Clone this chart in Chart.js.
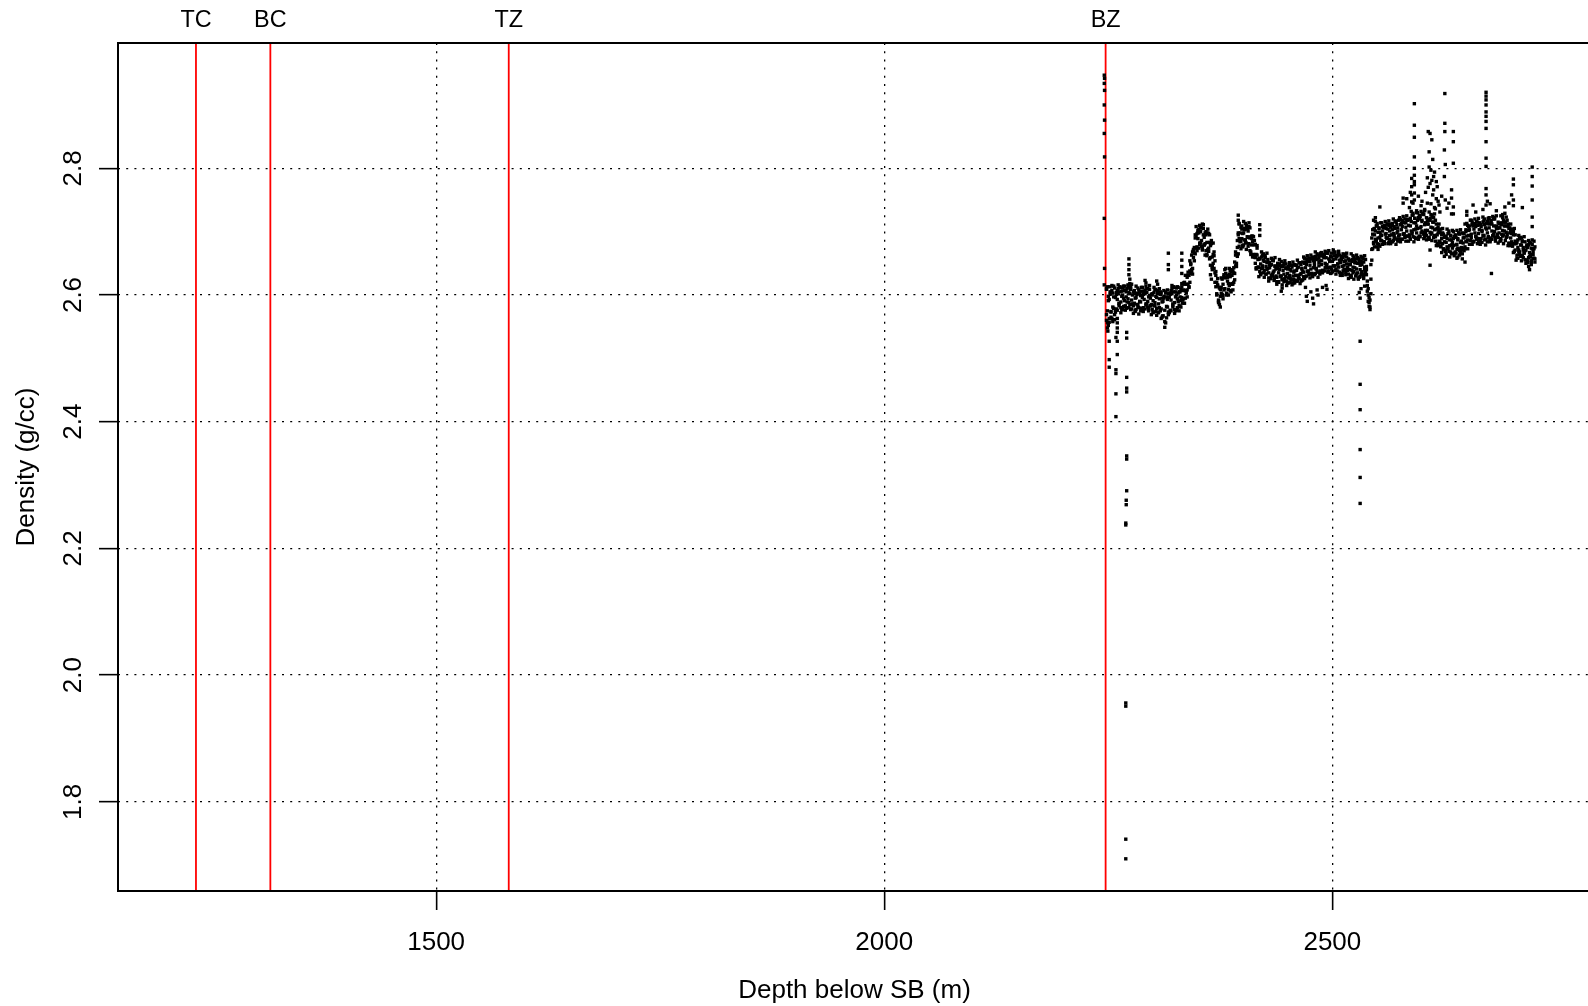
<!DOCTYPE html>
<html>
<head>
<meta charset="utf-8">
<script src="https://cdn.jsdelivr.net/npm/chart.js@4"></script>
<style>
  html, body { margin: 0; padding: 0; background: #fff; overflow: hidden; }
  canvas { display: block; }
</style>
</head>
<body>
<canvas id="densityChart" width="1600" height="1006"></canvas>
<script>
// formation tops, depth below SB (m)
var topNames = ['TC', 'BC', 'TZ', 'BZ'];
var topDepths = [1232, 1315, 1581, 2247];

var xTicks = [1500, 2000, 2500];
var yTicks = [1.8, 2.0, 2.2, 2.4, 2.6, 2.8];

// density log, three readings per metre
var depth = [
  2248, 2249, 2250, 2251, 2252, 2253, 2254, 2255, 2256, 2257,
  2258, 2259, 2260, 2261, 2262, 2263, 2264, 2265, 2266, 2267,
  2268, 2269, 2270, 2271, 2272, 2273, 2274, 2275, 2276, 2277,
  2278, 2279, 2280, 2281, 2282, 2283, 2284, 2285, 2286, 2287,
  2288, 2289, 2290, 2291, 2292, 2293, 2294, 2295, 2296, 2297,
  2298, 2299, 2300, 2301, 2302, 2303, 2304, 2305, 2306, 2307,
  2308, 2309, 2310, 2311, 2312, 2313, 2314, 2315, 2316, 2317,
  2318, 2319, 2320, 2321, 2322, 2323, 2324, 2325, 2326, 2327,
  2328, 2329, 2330, 2331, 2332, 2333, 2334, 2335, 2336, 2337,
  2338, 2339, 2340, 2341, 2342, 2343, 2344, 2345, 2346, 2347,
  2348, 2349, 2350, 2351, 2352, 2353, 2354, 2355, 2356, 2357,
  2358, 2359, 2360, 2361, 2362, 2363, 2364, 2365, 2366, 2367,
  2368, 2369, 2370, 2371, 2372, 2373, 2374, 2375, 2376, 2377,
  2378, 2379, 2380, 2381, 2382, 2383, 2384, 2385, 2386, 2387,
  2388, 2389, 2390, 2391, 2392, 2393, 2394, 2395, 2396, 2397,
  2398, 2399, 2400, 2401, 2402, 2403, 2404, 2405, 2406, 2407,
  2408, 2409, 2410, 2411, 2412, 2413, 2414, 2415, 2416, 2417,
  2418, 2419, 2420, 2421, 2422, 2423, 2424, 2425, 2426, 2427,
  2428, 2429, 2430, 2431, 2432, 2433, 2434, 2435, 2436, 2437,
  2438, 2439, 2440, 2441, 2442, 2443, 2444, 2445, 2446, 2447,
  2448, 2449, 2450, 2451, 2452, 2453, 2454, 2455, 2456, 2457,
  2458, 2459, 2460, 2461, 2462, 2463, 2464, 2465, 2466, 2467,
  2468, 2469, 2470, 2471, 2472, 2473, 2474, 2475, 2476, 2477,
  2478, 2479, 2480, 2481, 2482, 2483, 2484, 2485, 2486, 2487,
  2488, 2489, 2490, 2491, 2492, 2493, 2494, 2495, 2496, 2497,
  2498, 2499, 2500, 2501, 2502, 2503, 2504, 2505, 2506, 2507,
  2508, 2509, 2510, 2511, 2512, 2513, 2514, 2515, 2516, 2517,
  2518, 2519, 2520, 2521, 2522, 2523, 2524, 2525, 2526, 2527,
  2528, 2529, 2530, 2531, 2532, 2533, 2534, 2535, 2536, 2537,
  2538, 2539, 2540, 2541, 2542, 2543, 2544,
  2545, 2546, 2547, 2548, 2549, 2550, 2551, 2552, 2553, 2554,
  2555, 2556, 2557, 2558, 2559, 2560, 2561, 2562, 2563, 2564,
  2565, 2566, 2567, 2568, 2569, 2570, 2571, 2572, 2573, 2574,
  2575, 2576, 2577, 2578, 2579, 2580, 2581, 2582, 2583, 2584,
  2585, 2586, 2587, 2588, 2589, 2590, 2591, 2592, 2593, 2594,
  2595, 2596, 2597, 2598, 2599, 2600, 2601, 2602, 2603, 2604,
  2605, 2606, 2607, 2608, 2609, 2610, 2611, 2612, 2613, 2614,
  2615, 2616, 2617, 2618, 2619, 2620, 2621, 2622, 2623, 2624,
  2625, 2626, 2627, 2628, 2629, 2630, 2631, 2632, 2633, 2634,
  2635, 2636, 2637, 2638, 2639, 2640, 2641, 2642, 2643, 2644,
  2645, 2646, 2647, 2648, 2649, 2650, 2651, 2652, 2653, 2654,
  2655, 2656, 2657, 2658, 2659, 2660, 2661, 2662, 2663, 2664,
  2665, 2666, 2667, 2668, 2669, 2670, 2671, 2672, 2673, 2674,
  2675, 2676, 2677, 2678, 2679, 2680, 2681, 2682, 2683, 2684,
  2685, 2686, 2687, 2688, 2689, 2690, 2691, 2692, 2693, 2694,
  2695, 2696, 2697, 2698, 2699, 2700, 2701, 2702, 2703, 2704,
  2705, 2706, 2707, 2708, 2709, 2710, 2711, 2712, 2713, 2714,
  2715, 2716, 2717, 2718, 2719, 2720, 2721, 2722, 2723, 2724, 2725, 2726
];
var densA = [
  2.609, 2.575, 2.591, 2.557, 2.601, 2.565, 2.615, 2.581, 2.597, 2.561,
  2.596, 2.578, 2.607, 2.602, 2.583, 2.612, 2.589, 2.577, 2.600, 2.595,
  2.607, 2.583, 2.597, 2.589, 2.614, 2.580, 2.602, 2.609, 2.592, 2.586,
  2.583, 2.607, 2.576, 2.596, 2.603, 2.585, 2.580, 2.602, 2.589, 2.606,
  2.578, 2.601, 2.593, 2.608, 2.586, 2.604, 2.581, 2.597, 2.609, 2.583,
  2.585, 2.602, 2.573, 2.604, 2.588, 2.598, 2.579, 2.607, 2.572, 2.594,
  2.601, 2.578, 2.589, 2.567, 2.595, 2.558, 2.605, 2.582, 2.593, 2.569,
  2.596, 2.576, 2.607, 2.602, 2.581, 2.613, 2.588, 2.575, 2.600, 2.594,
  2.603, 2.584, 2.597, 2.591, 2.613, 2.587, 2.608, 2.617, 2.607, 2.606,
  2.608, 2.636, 2.613, 2.638, 2.650, 2.640, 2.642, 2.670, 2.666, 2.690,
  2.674, 2.697, 2.689, 2.704, 2.682, 2.700, 2.677, 2.712, 2.705, 2.679,
  2.681, 2.700, 2.664, 2.698, 2.674, 2.683, 2.659, 2.686, 2.644, 2.664,
  2.662, 2.635, 2.631, 2.602, 2.614, 2.588, 2.611, 2.598, 2.612, 2.600,
  2.617, 2.608, 2.640, 2.628, 2.600, 2.628, 2.618, 2.615, 2.629, 2.617,
  2.631, 2.617, 2.635, 2.634, 2.663, 2.645, 2.675, 2.695, 2.689, 2.687,
  2.685, 2.709, 2.678, 2.698, 2.705, 2.687, 2.682, 2.704, 2.691, 2.708,
  2.670, 2.692, 2.679, 2.693, 2.664, 2.679, 2.650, 2.664, 2.674, 2.643,
  2.644, 2.658, 2.634, 2.660, 2.646, 2.655, 2.639, 2.662, 2.633, 2.651,
  2.652, 2.635, 2.643, 2.626, 2.648, 2.630, 2.655, 2.638, 2.646, 2.628,
  2.628, 2.650, 2.621, 2.640, 2.646, 2.630, 2.625, 2.645, 2.633, 2.649,
  2.642, 2.622, 2.634, 2.627, 2.648, 2.620, 2.638, 2.644, 2.630, 2.625,
  2.638, 2.623, 2.647, 2.643, 2.627, 2.651, 2.632, 2.622, 2.641, 2.637,
  2.629, 2.650, 2.643, 2.657, 2.637, 2.653, 2.632, 2.647, 2.658, 2.634,
  2.660, 2.643, 2.651, 2.634, 2.656, 2.638, 2.663, 2.646, 2.654, 2.636,
  2.654, 2.639, 2.663, 2.659, 2.643, 2.667, 2.648, 2.638, 2.657, 2.653,
  2.661, 2.641, 2.653, 2.646, 2.667, 2.639, 2.657, 2.663, 2.649, 2.644,
  2.655, 2.632, 2.661, 2.645, 2.638, 2.653, 2.664, 2.636, 2.649, 2.641,
  2.633, 2.648, 2.654, 2.628, 2.656, 2.644, 2.637, 2.651, 2.657, 2.641,
  2.635, 2.657, 2.628, 2.647, 2.653, 2.637, 2.632, 2.652, 2.640, 2.656,
  2.632, 2.622, 2.610, 2.596, 2.581, 2.602, 2.655,
  2.696, 2.681, 2.705, 2.701, 2.685, 2.709, 2.690, 2.680, 2.699, 2.695,
  2.694, 2.708, 2.684, 2.710, 2.696, 2.705, 2.689, 2.712, 2.683, 2.701,
  2.712, 2.695, 2.703, 2.686, 2.708, 2.690, 2.715, 2.698, 2.706, 2.688,
  2.695, 2.719, 2.688, 2.708, 2.715, 2.697, 2.692, 2.714, 2.701, 2.718,
  2.719, 2.695, 2.709, 2.701, 2.726, 2.692, 2.714, 2.721, 2.704, 2.698,
  2.718, 2.691, 2.726, 2.706, 2.698, 2.716, 2.729, 2.696, 2.711, 2.702,
  2.694, 2.712, 2.719, 2.688, 2.721, 2.707, 2.698, 2.715, 2.722, 2.703,
  2.685, 2.704, 2.695, 2.707, 2.685, 2.699, 2.676, 2.689, 2.698, 2.673,
  2.684, 2.669, 2.693, 2.689, 2.673, 2.697, 2.678, 2.668, 2.687, 2.683,
  2.678, 2.692, 2.668, 2.694, 2.680, 2.689, 2.673, 2.696, 2.667, 2.685,
  2.674, 2.690, 2.697, 2.673, 2.703, 2.693, 2.687, 2.702, 2.709, 2.694,
  2.691, 2.715, 2.684, 2.704, 2.711, 2.693, 2.688, 2.710, 2.697, 2.714,
  2.711, 2.689, 2.702, 2.694, 2.717, 2.687, 2.706, 2.713, 2.698, 2.692,
  2.712, 2.686, 2.718, 2.701, 2.693, 2.709, 2.722, 2.691, 2.705, 2.696,
  2.715, 2.698, 2.706, 2.689, 2.711, 2.693, 2.718, 2.701, 2.709, 2.691,
  2.696, 2.708, 2.682, 2.706, 2.690, 2.697, 2.679, 2.700, 2.669, 2.685,
  2.683, 2.663, 2.675, 2.668, 2.689, 2.661, 2.679, 2.685, 2.671, 2.666,
  2.670, 2.655, 2.679, 2.675, 2.659, 2.683, 2.664, 2.654, 2.673, 2.669, 2.658, 2.676
];
var densB = [
  2.569, 2.613, 2.555, 2.593, 2.605, 2.573, 2.563, 2.603, 2.579, 2.611,
  2.576, 2.601, 2.593, 2.610, 2.586, 2.605, 2.580, 2.598, 2.611, 2.582,
  2.591, 2.608, 2.579, 2.610, 2.594, 2.604, 2.585, 2.613, 2.578, 2.600,
  2.605, 2.587, 2.595, 2.577, 2.601, 2.581, 2.608, 2.590, 2.599, 2.579,
  2.596, 2.580, 2.606, 2.602, 2.584, 2.610, 2.590, 2.579, 2.599, 2.595,
  2.601, 2.577, 2.591, 2.583, 2.608, 2.574, 2.596, 2.603, 2.586, 2.580,
  2.575, 2.603, 2.565, 2.590, 2.598, 2.549, 2.556, 2.597, 2.581, 2.602,
  2.573, 2.601, 2.592, 2.610, 2.584, 2.605, 2.577, 2.597, 2.611, 2.580,
  2.590, 2.605, 2.582, 2.609, 2.596, 2.607, 2.594, 2.620, 2.595, 2.617,
  2.628, 2.617, 2.631, 2.620, 2.648, 2.636, 2.668, 2.659, 2.675, 2.665,
  2.692, 2.676, 2.702, 2.698, 2.680, 2.706, 2.686, 2.675, 2.695, 2.691,
  2.698, 2.670, 2.683, 2.672, 2.697, 2.657, 2.678, 2.682, 2.660, 2.650,
  2.642, 2.654, 2.613, 2.620, 2.616, 2.592, 2.585, 2.609, 2.603, 2.625,
  2.599, 2.629, 2.627, 2.634, 2.602, 2.622, 2.609, 2.633, 2.639, 2.605,
  2.618, 2.638, 2.620, 2.652, 2.646, 2.665, 2.661, 2.698, 2.677, 2.698,
  2.707, 2.689, 2.697, 2.679, 2.703, 2.683, 2.710, 2.692, 2.701, 2.681,
  2.690, 2.668, 2.693, 2.684, 2.661, 2.686, 2.659, 2.643, 2.663, 2.656,
  2.657, 2.637, 2.649, 2.642, 2.663, 2.635, 2.653, 2.659, 2.645, 2.640,
  2.642, 2.627, 2.651, 2.647, 2.631, 2.655, 2.636, 2.626, 2.645, 2.641,
  2.621, 2.642, 2.635, 2.649, 2.629, 2.645, 2.624, 2.639, 2.650, 2.626,
  2.629, 2.643, 2.619, 2.645, 2.631, 2.640, 2.624, 2.647, 2.618, 2.636,
  2.648, 2.631, 2.639, 2.622, 2.644, 2.626, 2.651, 2.634, 2.642, 2.624,
  2.636, 2.658, 2.629, 2.648, 2.654, 2.638, 2.633, 2.653, 2.641, 2.657,
  2.633, 2.654, 2.647, 2.661, 2.641, 2.657, 2.636, 2.651, 2.662, 2.638,
  2.648, 2.662, 2.638, 2.664, 2.650, 2.659, 2.643, 2.666, 2.637, 2.655,
  2.644, 2.666, 2.637, 2.656, 2.662, 2.646, 2.641, 2.661, 2.649, 2.665,
  2.636, 2.651, 2.657, 2.631, 2.659, 2.647, 2.640, 2.654, 2.660, 2.644,
  2.657, 2.640, 2.648, 2.631, 2.653, 2.635, 2.660, 2.643, 2.651, 2.633,
  2.650, 2.627, 2.656, 2.640, 2.633, 2.648, 2.659, 2.631, 2.644, 2.636,
  2.640, 2.615, 2.600, 2.588, 2.577, 2.625, 2.672,
  2.703, 2.683, 2.695, 2.688, 2.709, 2.681, 2.699, 2.705, 2.691, 2.686,
  2.686, 2.701, 2.707, 2.681, 2.709, 2.697, 2.690, 2.704, 2.710, 2.694,
  2.707, 2.684, 2.713, 2.697, 2.690, 2.705, 2.716, 2.688, 2.701, 2.693,
  2.688, 2.711, 2.703, 2.718, 2.696, 2.714, 2.691, 2.707, 2.719, 2.693,
  2.710, 2.692, 2.721, 2.716, 2.697, 2.726, 2.703, 2.691, 2.714, 2.709,
  2.705, 2.722, 2.693, 2.724, 2.708, 2.718, 2.699, 2.727, 2.692, 2.714,
  2.722, 2.702, 2.712, 2.691, 2.718, 2.696, 2.726, 2.706, 2.715, 2.694,
  2.692, 2.712, 2.681, 2.698, 2.702, 2.684, 2.677, 2.695, 2.681, 2.696,
  2.691, 2.671, 2.683, 2.676, 2.697, 2.669, 2.687, 2.693, 2.679, 2.674,
  2.689, 2.666, 2.695, 2.679, 2.672, 2.687, 2.698, 2.670, 2.683, 2.675,
  2.698, 2.682, 2.691, 2.676, 2.700, 2.684, 2.710, 2.694, 2.703, 2.686,
  2.696, 2.711, 2.685, 2.713, 2.698, 2.708, 2.690, 2.715, 2.684, 2.703,
  2.685, 2.708, 2.700, 2.715, 2.693, 2.711, 2.688, 2.704, 2.716, 2.690,
  2.706, 2.690, 2.716, 2.712, 2.694, 2.720, 2.700, 2.689, 2.709, 2.705,
  2.691, 2.706, 2.712, 2.686, 2.714, 2.702, 2.695, 2.709, 2.715, 2.699,
  2.692, 2.712, 2.681, 2.698, 2.702, 2.684, 2.677, 2.695, 2.681, 2.695,
  2.681, 2.658, 2.687, 2.671, 2.664, 2.679, 2.690, 2.662, 2.675, 2.667,
  2.656, 2.671, 2.677, 2.651, 2.679, 2.667, 2.660, 2.674, 2.680, 2.664, 2.673, 2.657
];
var densC = [
  2.610, 2.557, 2.598, 2.563, 2.613, 2.574, 2.607, 2.558, 2.614, 2.569,
  2.573, 2.604, 2.576, 2.616, 2.587, 2.613, 2.572, 2.606, 2.577, 2.614,
  2.614, 2.576, 2.605, 2.580, 2.616, 2.588, 2.612, 2.577, 2.617, 2.585,
  2.571, 2.602, 2.574, 2.614, 2.585, 2.611, 2.570, 2.604, 2.575, 2.612,
  2.612, 2.574, 2.603, 2.578, 2.614, 2.586, 2.610, 2.575, 2.615, 2.583,
  2.569, 2.600, 2.572, 2.612, 2.583, 2.609, 2.568, 2.602, 2.573, 2.610,
  2.605, 2.563, 2.595, 2.567, 2.607, 2.576, 2.603, 2.564, 2.608, 2.573,
  2.572, 2.603, 2.575, 2.615, 2.586, 2.612, 2.571, 2.605, 2.576, 2.613,
  2.612, 2.575, 2.605, 2.581, 2.618, 2.592, 2.619, 2.587, 2.631, 2.603,
  2.597, 2.631, 2.612, 2.654, 2.634, 2.663, 2.633, 2.672, 2.654, 2.695,
  2.708, 2.670, 2.699, 2.674, 2.710, 2.682, 2.706, 2.671, 2.711, 2.679,
  2.663, 2.695, 2.662, 2.704, 2.669, 2.695, 2.647, 2.681, 2.645, 2.682,
  2.668, 2.620, 2.637, 2.600, 2.626, 2.590, 2.612, 2.581, 2.627, 2.601,
  2.594, 2.632, 2.610, 2.642, 2.603, 2.631, 2.600, 2.642, 2.607, 2.636,
  2.640, 2.608, 2.643, 2.624, 2.668, 2.650, 2.686, 2.665, 2.713, 2.684,
  2.673, 2.704, 2.676, 2.716, 2.687, 2.713, 2.672, 2.706, 2.677, 2.714,
  2.706, 2.664, 2.689, 2.660, 2.692, 2.660, 2.680, 2.641, 2.678, 2.644,
  2.629, 2.657, 2.632, 2.668, 2.642, 2.665, 2.628, 2.659, 2.633, 2.666,
  2.656, 2.622, 2.648, 2.626, 2.658, 2.633, 2.654, 2.623, 2.659, 2.630,
  2.617, 2.645, 2.620, 2.656, 2.630, 2.653, 2.616, 2.647, 2.621, 2.654,
  2.649, 2.615, 2.641, 2.619, 2.651, 2.626, 2.647, 2.616, 2.652, 2.623,
  2.619, 2.647, 2.622, 2.655, 2.631, 2.651, 2.618, 2.648, 2.623, 2.652,
  2.660, 2.626, 2.652, 2.630, 2.662, 2.637, 2.658, 2.627, 2.663, 2.634,
  2.629, 2.657, 2.632, 2.668, 2.642, 2.665, 2.628, 2.659, 2.633, 2.666,
  2.667, 2.635, 2.660, 2.638, 2.669, 2.645, 2.666, 2.636, 2.670, 2.643,
  2.634, 2.660, 2.637, 2.671, 2.646, 2.668, 2.633, 2.662, 2.638, 2.669,
  2.663, 2.631, 2.656, 2.634, 2.665, 2.641, 2.662, 2.632, 2.666, 2.639,
  2.626, 2.654, 2.629, 2.665, 2.639, 2.662, 2.625, 2.656, 2.630, 2.663,
  2.659, 2.625, 2.651, 2.629, 2.661, 2.636, 2.657, 2.626, 2.662, 2.633,
  2.645, 2.606, 2.590, 2.582, 2.592, 2.648, 2.690,
  2.673, 2.704, 2.676, 2.716, 2.687, 2.713, 2.672, 2.706, 2.677, 2.714,
  2.714, 2.680, 2.706, 2.684, 2.716, 2.691, 2.712, 2.681, 2.717, 2.688,
  2.681, 2.709, 2.684, 2.720, 2.694, 2.717, 2.680, 2.711, 2.685, 2.718,
  2.722, 2.684, 2.713, 2.688, 2.724, 2.696, 2.720, 2.685, 2.725, 2.693,
  2.685, 2.719, 2.688, 2.732, 2.700, 2.729, 2.684, 2.721, 2.689, 2.730,
  2.730, 2.688, 2.720, 2.692, 2.732, 2.701, 2.728, 2.689, 2.733, 2.698,
  2.687, 2.717, 2.690, 2.731, 2.699, 2.727, 2.686, 2.723, 2.691, 2.728,
  2.718, 2.678, 2.705, 2.678, 2.712, 2.682, 2.704, 2.667, 2.705, 2.672,
  2.661, 2.692, 2.664, 2.704, 2.675, 2.701, 2.660, 2.694, 2.665, 2.702,
  2.700, 2.662, 2.691, 2.666, 2.702, 2.674, 2.698, 2.663, 2.703, 2.671,
  2.665, 2.697, 2.670, 2.712, 2.685, 2.713, 2.673, 2.708, 2.680, 2.718,
  2.718, 2.680, 2.709, 2.684, 2.720, 2.692, 2.716, 2.681, 2.721, 2.689,
  2.680, 2.711, 2.683, 2.723, 2.694, 2.720, 2.679, 2.713, 2.684, 2.721,
  2.722, 2.684, 2.713, 2.688, 2.724, 2.696, 2.720, 2.685, 2.725, 2.693,
  2.682, 2.713, 2.685, 2.725, 2.696, 2.722, 2.681, 2.715, 2.686, 2.723,
  2.718, 2.678, 2.705, 2.678, 2.712, 2.682, 2.704, 2.667, 2.705, 2.671,
  2.655, 2.683, 2.658, 2.694, 2.668, 2.691, 2.654, 2.685, 2.659, 2.692,
  2.684, 2.650, 2.676, 2.654, 2.686, 2.661, 2.682, 2.651, 2.687, 2.658, 2.685, 2.652
];

// spikes and scattered readings off the main trend
var spikeDepth = [
  2245.5, 2245.8, 2245.5, 2245.8, 2245.5, 2245.8, 2245.5, 2245.8, 2245.5, 2245.8, 2245.5,
  2248, 2249, 2249.5, 2250, 2251, 2251, 2251, 2258.5, 2260, 2260, 2260, 2260, 2260, 2260,
  2258.5, 2258.5, 2258.5, 2258.5, 2270.5, 2270.5, 2270.5, 2270.5, 2270.5, 2270.5, 2270.5, 2270.5,
  2270, 2270, 2269.5, 2269.5, 2269.5, 2269.5, 2269.5, 2269.5,
  2273, 2273, 2273, 2273, 2274, 2274, 2291, 2292, 2304, 2305,
  2317, 2317, 2317, 2332, 2332, 2332, 2332, 2364, 2365, 2366,
  2395, 2395, 2396, 2419, 2419, 2419, 2443, 2444,
  2470, 2471, 2472, 2476, 2478, 2479, 2483, 2484, 2489, 2493, 2494,
  2530, 2531, 2532, 2536, 2531, 2531, 2531, 2531, 2531, 2531,
  2546, 2548, 2550,
  2591.5, 2591.5, 2591.5, 2591.5, 2591.5, 2591.5, 2591.5, 2591.5, 2591.5, 2591.5,
  2588.5, 2588.5, 2588.5, 2588.5,
  2607, 2609, 2611, 2608, 2612, 2610, 2613, 2608, 2614, 2609, 2613, 2616, 2610, 2615, 2618, 2606, 2617,
  2625.5, 2625.5, 2625.5, 2625, 2626, 2625, 2626,
  2635, 2635, 2635, 2633, 2633, 2635, 2635,
  2671.5, 2671.5, 2671.5, 2671.5, 2671.5, 2671.5, 2671.5, 2671.5, 2671.5, 2671.5, 2671.5, 2671.5, 2671.5, 2671.5,
  2702, 2702, 2702, 2702,
  2723, 2723, 2723, 2723, 2723, 2723,
  2650, 2650, 2692.5, 2692.5, 2553, 2579, 2579,
  2586, 2594, 2599, 2603, 2606, 2614, 2620, 2628, 2633, 2660, 2668, 2683, 2690,
  2583, 2587, 2590, 2596, 2600, 2604, 2607, 2611, 2612, 2616, 2619, 2622, 2630, 2657, 2673, 2676, 2697, 2700, 2712,
  2609, 2609, 2648, 2639, 2677.5, 2640, 2645, 2719, 2720, 2722
];
var spikeDens = [
  2.947, 2.942, 2.934, 2.923, 2.900, 2.876, 2.855, 2.818, 2.721, 2.642, 2.616,
  2.560, 2.548, 2.543, 2.552, 2.527, 2.498, 2.486, 2.533, 2.563, 2.556, 2.548, 2.541, 2.527, 2.506,
  2.482, 2.476, 2.444, 2.408, 2.541, 2.532, 2.470, 2.453, 2.447, 2.346, 2.341, 2.291,
  2.276, 2.269, 2.240, 2.237, 1.956, 1.951, 1.741, 1.710,
  2.657, 2.648, 2.640, 2.632, 2.625, 2.618, 2.623, 2.619, 2.622, 2.617,
  2.666, 2.648, 2.640, 2.666, 2.655, 2.645, 2.634, 2.632, 2.625, 2.640,
  2.726, 2.718, 2.712, 2.711, 2.703, 2.694, 2.606, 2.611,
  2.612, 2.598, 2.590, 2.605, 2.595, 2.586, 2.608, 2.600, 2.612, 2.615, 2.609,
  2.604, 2.595, 2.610, 2.614, 2.527, 2.459, 2.419, 2.356, 2.312, 2.271,
  2.718, 2.722, 2.676,
  2.902, 2.868, 2.849, 2.818, 2.800, 2.789, 2.779, 2.774, 2.761, 2.750,
  2.784, 2.771, 2.758, 2.747,
  2.858, 2.855, 2.845, 2.826, 2.814, 2.797, 2.787, 2.802, 2.794, 2.776, 2.766, 2.752, 2.744, 2.736, 2.748, 2.785, 2.771,
  2.918, 2.871, 2.858, 2.829, 2.806, 2.787, 2.750,
  2.858, 2.842, 2.808, 2.766, 2.753, 2.739, 2.728,
  2.920, 2.914, 2.908, 2.900, 2.889, 2.882, 2.874, 2.863, 2.842, 2.816, 2.803, 2.768, 2.758, 2.742,
  2.783, 2.774, 2.750, 2.741,
  2.802, 2.787, 2.772, 2.750, 2.723, 2.708,
  2.732, 2.726, 2.739, 2.729, 2.739, 2.753, 2.745,
  2.738, 2.733, 2.741, 2.735, 2.745, 2.738, 2.731, 2.737, 2.728, 2.731, 2.735, 2.733, 2.727,
  2.752, 2.762, 2.745, 2.756, 2.748, 2.762, 2.770, 2.781, 2.758, 2.779, 2.742, 2.756, 2.745, 2.742, 2.748, 2.744, 2.745, 2.758, 2.738,
  2.671, 2.647, 2.652, 2.658, 2.634, 2.660, 2.657, 2.645, 2.640, 2.648
];

var xMin = 1145.0, xMax = 2788.6;
var yMin = 1.6592, yMax = 2.9978;

var logPoints = [];
for (var i = 0; i < depth.length; i++) {
  logPoints.push({x: depth[i], y: densA[i]});
  logPoints.push({x: depth[i], y: densB[i]});
  logPoints.push({x: depth[i], y: densC[i]});
}
for (var j = 0; j < spikeDepth.length; j++) {
  logPoints.push({x: spikeDepth[j], y: spikeDens[j]});
}

var datasets = [{
  data: logPoints,
  pointStyle: 'rect',
  pointRadius: 2.4,
  backgroundColor: '#000',
  borderWidth: 0,
  order: 0
}];
topDepths.forEach(function (d) {
  datasets.push({
    data: [{x: d, y: yMin}, {x: d, y: yMax}],
    showLine: true,
    borderColor: '#ff0000',
    borderWidth: 1.8,
    pointRadius: 0,
    order: 1
  });
});

var FONT = '"Liberation Sans", Arial, sans-serif';

// box, axis labels and formation names, drawn the way R does them
var axisText = {
  id: 'axisText',
  afterDraw: function (chart) {
    var ctx = chart.ctx, a = chart.chartArea;
    var xs = chart.scales.x, ys = chart.scales.y;
    ctx.save();
    ctx.strokeStyle = '#000';
    ctx.lineWidth = 2;
    ctx.strokeRect(a.left, a.top, a.right - a.left, a.bottom - a.top);

    ctx.fillStyle = '#000';
    ctx.textAlign = 'center';
    ctx.textBaseline = 'alphabetic';
    ctx.font = '26px ' + FONT;
    xTicks.forEach(function (v) {
      ctx.fillText(String(v), xs.getPixelForValue(v), 950);
    });
    ctx.fillText('Depth below SB (m)', (a.left + a.right) / 2, 998);

    yTicks.forEach(function (v) {
      ctx.save();
      ctx.translate(81, ys.getPixelForValue(v));
      ctx.rotate(-Math.PI / 2);
      ctx.fillText(v.toFixed(1), 0, 0);
      ctx.restore();
    });
    ctx.save();
    ctx.translate(34, (a.top + a.bottom) / 2);
    ctx.rotate(-Math.PI / 2);
    ctx.fillText('Density (g/cc)', 0, 0);
    ctx.restore();

    ctx.font = '23.4px ' + FONT;
    topNames.forEach(function (n, k) {
      ctx.fillText(n, xs.getPixelForValue(topDepths[k]), 27);
    });
    ctx.restore();
  }
};

var gridOpts = {
  color: '#000',
  lineWidth: 1.3,
  tickLength: 19,
  tickColor: '#000',
  tickWidth: 1.6,
  tickBorderDash: []
};

var ctx = document.getElementById('densityChart').getContext('2d');
var chart = new Chart(ctx, {
  type: 'scatter',
  data: { datasets: datasets },
  options: {
    responsive: false,
    animation: false,
    devicePixelRatio: 1,
    events: [],
    layout: { padding: { top: 43, right: 9, left: 0, bottom: 0 } },
    plugins: { legend: { display: false }, tooltip: { enabled: false } },
    scales: {
      x: {
        type: 'linear',
        min: xMin,
        max: xMax,
        afterBuildTicks: function (s) { s.ticks = xTicks.map(function (v) { return {value: v}; }); },
        afterFit: function (s) { s.height = 115; },
        ticks: { display: false },
        grid: gridOpts,
        border: { display: false, dash: [2, 6.2] }
      },
      y: {
        type: 'linear',
        min: yMin,
        max: yMax,
        afterBuildTicks: function (s) { s.ticks = yTicks.map(function (v) { return {value: v}; }); },
        afterFit: function (s) { s.width = 118; },
        ticks: { display: false },
        grid: gridOpts,
        border: { display: false, dash: [2, 6.2] }
      }
    }
  },
  plugins: [axisText]
});
</script>
</body>
</html>
